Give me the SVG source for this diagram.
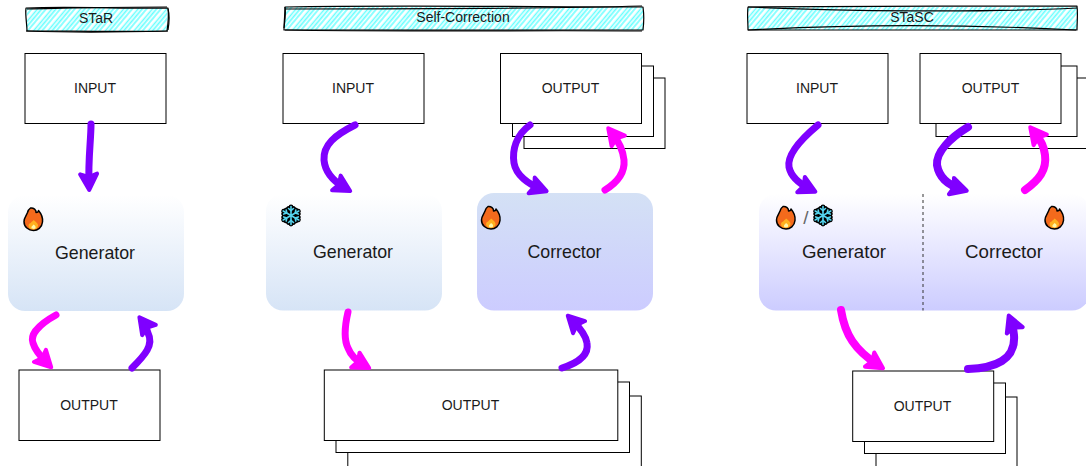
<svg xmlns="http://www.w3.org/2000/svg" width="1086" height="466" viewBox="0 0 1086 466">
<style>
text{font-family:"Liberation Sans",Arial,sans-serif;fill:#1a1a1a;text-anchor:middle}
.t{font-size:14px}.b{font-size:14px}.g{font-size:17.800px}.g2{font-size:18.700px}
.box{fill:#fff;stroke:#000;stroke-width:1}
.sk{fill:none;stroke:#000;stroke-width:1.200;stroke-linejoin:round}
.a{fill:none;stroke-width:7;stroke-linecap:round}
.p{stroke:#7f00ff;marker-end:url(#hp)}.m{stroke:#ff00ff;marker-end:url(#hm)}
.w7{stroke-width:8}
</style>
<defs>
<pattern id="hatch" width="11" height="11" patternUnits="userSpaceOnUse" patternTransform="rotate(-50)"><rect width="11" height="11" fill="#fff"/><path d="M0,1.500 H11 M0,4.600 H11 M0,8 H11" stroke="#66ffff" stroke-width="1.700" fill="none"/></pattern>
<linearGradient id="gBlue" x1="0" y1="0" x2="0" y2="1"><stop offset="0" stop-color="#fff"/><stop offset="1" stop-color="#d6e4f6"/></linearGradient>
<linearGradient id="gCor" x1="0" y1="0" x2="0" y2="1"><stop offset="0" stop-color="#d4e1f5"/><stop offset="1" stop-color="#ccccff"/></linearGradient>
<linearGradient id="gPur" x1="0" y1="0" x2="0" y2="1"><stop offset="0" stop-color="#fff"/><stop offset="1" stop-color="#ccccff"/></linearGradient>
<marker id="hp" markerUnits="userSpaceOnUse" orient="auto" overflow="visible" markerWidth="30" markerHeight="30" refX="0" refY="0"><path d="M-10,-8.500 L6,0 L-10,8.500 L-7,0Z" fill="#7f00ff" stroke="#7f00ff" stroke-width="4" stroke-linejoin="round"/></marker>
<marker id="hm" markerUnits="userSpaceOnUse" orient="auto" overflow="visible" markerWidth="30" markerHeight="30" refX="0" refY="0"><path d="M-10,-8.500 L6,0 L-10,8.500 L-7,0Z" fill="#ff00ff" stroke="#ff00ff" stroke-width="4" stroke-linejoin="round"/></marker>
<g id="fire">
<path d="M-3,-11 C0,-11.500 3,-9 2.500,-6.500 C4,-6.500 5,-7.500 5,-8.500 C8,-5 9.500,-1 9,3 C8.500,8.500 4,11.500 0,11.500 C-5,11.500 -9.500,8 -9.500,2.500 C-9.500,-1.500 -7,-3.500 -6,-6.500 C-5.500,-8.500 -4.500,-10 -3,-11Z" fill="#f46a1c" stroke="#000" stroke-width="1.500" stroke-linejoin="round"/>
<path d="M0,1 C2,2.500 5,4.500 4.500,7 C4,9.500 2,10.500 0,10.500 C-3,10.500 -5,9 -5,6.500 C-5,4.500 -3,4.500 -2,3 C-1.500,2.500 -0.500,2 0,1Z" fill="#ffb01f"/>
<path d="M0,5.500 C1.500,6.500 2.500,7.500 2,9 C1.500,10.200 -1.500,10.200 -2,9 C-2.500,7.500 -1,7 0,5.500Z" fill="#fff6a8"/>
</g>
<g id="snow" fill="none" stroke-linecap="round" stroke-linejoin="round">
<g stroke="#000" stroke-width="4.800">
<path d="M0,-8.500 V8.500 M-7.400,-4.300 L7.400,4.300 M-7.400,4.300 L7.400,-4.300"/>
<path d="M-2.500,-7 L0,-4.800 L2.500,-7 M-2.500,7 L0,4.800 L2.500,7 M-7.300,-1.400 L-4.200,-2.400 L-4.800,-5.500 M7.300,1.400 L4.200,2.400 L4.800,5.500 M-7.300,1.400 L-4.200,2.400 L-4.800,5.500 M7.300,-1.400 L4.200,-2.400 L4.800,-5.500"/>
</g>
<g stroke="#55d4ee" stroke-width="1.600">
<path d="M0,-9 V9 M-7.800,-4.500 L7.800,4.500 M-7.800,4.500 L7.800,-4.500"/>
<path d="M-2.500,-7 L0,-4.800 L2.500,-7 M-2.500,7 L0,4.800 L2.500,7 M-7.300,-1.400 L-4.200,-2.400 L-4.800,-5.500 M7.300,1.400 L4.200,2.400 L4.800,5.500 M-7.300,1.400 L-4.200,2.400 L-4.800,5.500 M7.300,-1.400 L4.200,-2.400 L4.800,-5.500"/>
</g>
</g>
</defs>
<rect width="1086" height="466" fill="#fff"/>

<g id="title-star">
<rect x="26.500" y="8" width="141" height="23" fill="url(#hatch)"/>
<path class="sk" d="M26,8 C70,6 130,9 168,8 C169,15 168,24 167,31 C120,32 70,31 27,31 C27,24 25,15 26,8Z"/>
<path class="sk" d="M27,9 C80,8 120,7 167,7 M168,9 C170,16 169,24 168,30 M26,31 C80,33 130,32 168,31"/>
<text class="t" x="96" y="23">STaR</text>
</g>
<g id="title-self">
<rect x="285" y="7" width="358" height="23" fill="url(#hatch)"/>
<path class="sk" d="M285,7 C400,5 540,7 643,7 C644,14 644,22 643,30 C520,31 400,30 284,30 C284,22 285,14 285,7Z"/>
<path class="sk" d="M285,9 C400,9 540,9 642,6 M284,28 C285,20 286,14 285,7 M285,30 C400,32 540,30 642,31"/>
<text class="t" x="463" y="22">Self-Correction</text>
</g>
<g id="title-stasc">
<rect x="748" y="7" width="329" height="23" fill="url(#hatch)"/>
<path class="sk" d="M748,7 C850,6 970,6 1077,6 C1078,14 1077,22 1077,30 C960,30 860,30 748,30 C748,22 747,14 748,7Z"/>
<path class="sk" d="M748,7 C840,11 980,13 1077,8 M748,30 C860,24 980,25 1076,30"/>
<text class="t" x="912" y="22">STaSC</text>
</g>

<g id="star-input"><rect class="box" x="25" y="53.500" width="141" height="70"/><text class="b" x="95" y="93">INPUT</text></g>
<g id="star-generator"><rect x="8" y="195" width="176" height="116" rx="17" fill="url(#gBlue)"/><use href="#fire" x="33.500" y="219"/><text class="g" x="95" y="258.500">Generator</text></g>
<g id="star-output"><rect class="box" x="19" y="370" width="141" height="70.500"/><text class="b" x="89" y="410">OUTPUT</text></g>

<g id="self-input"><rect class="box" x="283" y="53.500" width="141" height="70"/><text class="b" x="353" y="93">INPUT</text></g>
<g id="self-output-top">
<rect class="box" x="524" y="78" width="141" height="70.500"/>
<rect class="box" x="512.500" y="66" width="141" height="70.500"/>
<rect class="box" x="500.500" y="53.500" width="141" height="70"/>
<text class="b" x="570.500" y="93">OUTPUT</text></g>
<g id="self-generator"><rect x="266" y="194" width="176" height="116.500" rx="17" fill="url(#gBlue)"/><use href="#snow" x="291" y="215.500"/><text class="g" x="353" y="257.500">Generator</text></g>
<g id="self-corrector"><rect x="477" y="193" width="176" height="117.500" rx="17" fill="url(#gCor)"/><use href="#fire" x="491" y="217.500"/><text class="g" x="564.500" y="257.500">Corrector</text></g>
<g id="self-output-bottom">
<rect class="box" x="347.800" y="396" width="293.500" height="90"/>
<rect class="box" x="336" y="382" width="293.500" height="70.500"/>
<rect class="box" x="324.300" y="370" width="293.500" height="70.500"/>
<text class="b" x="470.500" y="410">OUTPUT</text></g>

<g id="stasc-input"><rect class="box" x="747" y="53.500" width="141" height="70"/><text class="b" x="817" y="93">INPUT</text></g>
<g id="stasc-output-top">
<rect class="box" x="947.500" y="78" width="141" height="70.500"/>
<rect class="box" x="936" y="66" width="141" height="70.500"/>
<rect class="box" x="920" y="53.500" width="141" height="70"/>
<text class="b" x="990.500" y="93">OUTPUT</text></g>
<g id="stasc-model">
<rect x="759" y="194" width="330" height="116.500" rx="17" fill="url(#gPur)"/>
<path d="M923,194 V310.500" stroke="#333" stroke-width="1" stroke-dasharray="3 3" fill="none"/>
<use href="#fire" x="786" y="217.500"/><text x="806" y="224" style="font-size:19px;fill:#666">/</text><use href="#snow" x="823" y="215.500"/><use href="#fire" x="1054.500" y="217.500"/>
<text class="g2" x="844" y="258">Generator</text><text class="g2" x="1004" y="258">Corrector</text></g>
<g id="stasc-output-bottom">
<rect class="box" x="876" y="397" width="141" height="90"/>
<rect class="box" x="864.500" y="383" width="141" height="70.500"/>
<rect class="box" x="852.700" y="371" width="141" height="70.500"/>
<text class="b" x="922.500" y="411">OUTPUT</text></g>

<g id="connectors">
<path class="a p" d="M91,124 C91,140 88,160 89,184"/>
<path class="a m" d="M56,315 C38,325 30,335 33,343 C35,350 40,356 47,363"/>
<path class="a p" d="M132,368 C145,355 154,345 148,333 C147,329 146,326 143,322"/>
<path class="a p" d="M355,125 C335,135 323,145 324,160 C325,172 333,181 345,188"/>
<path class="a p" d="M530,125 C516,135 512,150 514,163 C516,175 528,184 541,189"/>
<path class="a m" d="M605,190 C618,182 625,172 624,160 C623,150 620,143 612,133"/>
<path class="a m" d="M348,312 C345,325 343,338 348,348 C351,356 357,361 364,365"/>
<path class="a p" d="M562,368 C578,363 589,355 587,343 C586,335 580,328 572,320"/>
<path class="a p" d="M818,125 C800,140 787,155 789,167 C791,177 800,184 810,189"/>
<path class="a p w7" d="M968,127 C950,138 936,152 937,165 C939,177 948,185 961,189"/>
<path class="a m w7" d="M1025,190 C1039,180 1047,170 1045,155 C1044,147 1042,142 1034,132"/>
<path class="a m w7" d="M841,310 C845,335 855,350 878,365"/>
<path class="a p w7" d="M968,369 C995,368 1016,360 1014,335 C1013.500,330 1013,326 1011,321"/>
</g>
</svg>
